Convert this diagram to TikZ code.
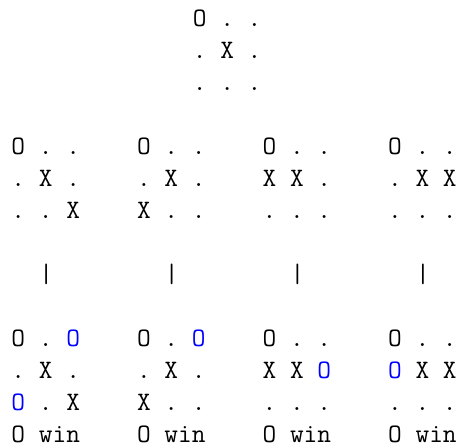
\documentclass[tikz,border=0pt]{standalone}
\usepackage{fontspec}
\setmonofont{Latin Modern Mono}
\begin{document}
\begin{tikzpicture}[x=1pt,y=1pt,
  cell/.style={anchor=base west,inner sep=0pt,outer sep=0pt,
    font=\fontsize{26.6}{32}\selectfont\ttfamily\frenchspacing}]
\def\p{13.95}
\def\ox{11.5}
\def\yt{419}
\newcommand{\bo}{\textcolor{blue}{O}}
\fill[white] (0,0) rectangle (463,446);
\useasboundingbox (0,0) rectangle (463,446);
% root board
\node[cell] (r0) at ({\ox+13*\p},{\yt-32*0}) {O . .};
\node[cell] (r1) at ({\ox+13*\p},{\yt-32*1}) {. X .};
\node[cell] (r2) at ({\ox+13*\p},{\yt-32*2}) {. . .};
% children boards
\node[cell] (a0) at ({\ox+0*\p},{\yt-32*4}) {O . .};
\node[cell] (a1) at ({\ox+0*\p},{\yt-32*5}) {. X .};
\node[cell] (a2) at ({\ox+0*\p},{\yt-32*6}) {. . X};
\node[cell] (b0) at ({\ox+9*\p},{\yt-32*4}) {O . .};
\node[cell] (b1) at ({\ox+9*\p},{\yt-32*5}) {. X .};
\node[cell] (b2) at ({\ox+9*\p},{\yt-32*6}) {X . .};
\node[cell] (c0) at ({\ox+18*\p},{\yt-32*4}) {O . .};
\node[cell] (c1) at ({\ox+18*\p},{\yt-32*5}) {X X .};
\node[cell] (c2) at ({\ox+18*\p},{\yt-32*6}) {. . .};
\node[cell] (d0) at ({\ox+27*\p},{\yt-32*4}) {O . .};
\node[cell] (d1) at ({\ox+27*\p},{\yt-32*5}) {. X X};
\node[cell] (d2) at ({\ox+27*\p},{\yt-32*6}) {. . .};
% bars
\node[cell] (ba) at ({\ox+2*\p},{\yt-32*8}) {|};
\node[cell] (bb) at ({\ox+11*\p},{\yt-32*8}) {|};
\node[cell] (bc) at ({\ox+20*\p},{\yt-32*8}) {|};
\node[cell] (bd) at ({\ox+29*\p},{\yt-32*8}) {|};
% result boards
\node[cell] (ea0) at ({\ox+0*\p},{\yt-32*10}) {O . \bo};
\node[cell] (ea1) at ({\ox+0*\p},{\yt-32*11}) {. X .};
\node[cell] (ea2) at ({\ox+0*\p},{\yt-32*12}) {\bo{} . X};
\node[cell] (ea3) at ({\ox+0*\p},{\yt-32*13}) {O win};
\node[cell] (eb0) at ({\ox+9*\p},{\yt-32*10}) {O . \bo};
\node[cell] (eb1) at ({\ox+9*\p},{\yt-32*11}) {. X .};
\node[cell] (eb2) at ({\ox+9*\p},{\yt-32*12}) {X . .};
\node[cell] (eb3) at ({\ox+9*\p},{\yt-32*13}) {O win};
\node[cell] (ec0) at ({\ox+18*\p},{\yt-32*10}) {O . .};
\node[cell] (ec1) at ({\ox+18*\p},{\yt-32*11}) {X X \bo};
\node[cell] (ec2) at ({\ox+18*\p},{\yt-32*12}) {. . .};
\node[cell] (ec3) at ({\ox+18*\p},{\yt-32*13}) {O win};
\node[cell] (ed0) at ({\ox+27*\p},{\yt-32*10}) {O . .};
\node[cell] (ed1) at ({\ox+27*\p},{\yt-32*11}) {\bo{} X X};
\node[cell] (ed2) at ({\ox+27*\p},{\yt-32*12}) {. . .};
\node[cell] (ed3) at ({\ox+27*\p},{\yt-32*13}) {O win};
\end{tikzpicture}
\end{document}
